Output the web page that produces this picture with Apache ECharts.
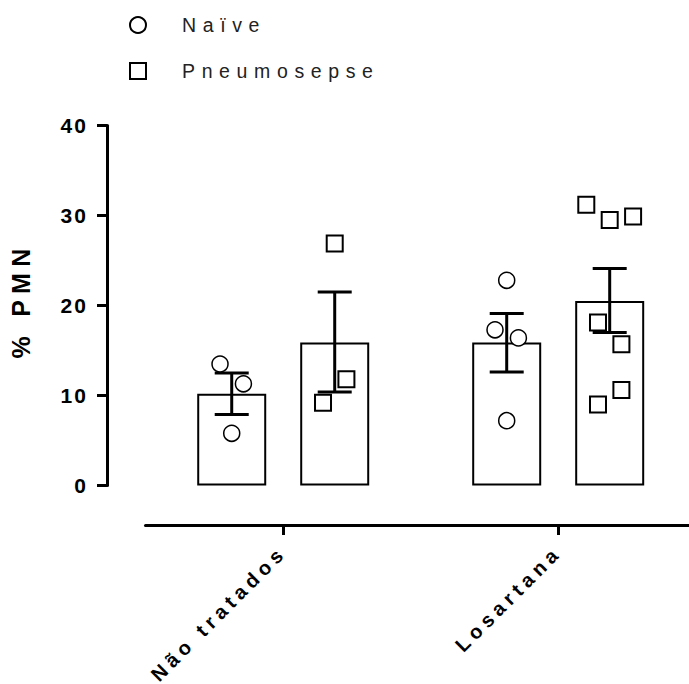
<!DOCTYPE html>
<html>
<head>
<meta charset="utf-8">
<script src="https://cdn.jsdelivr.net/npm/echarts@6/dist/echarts.min.js"></script>
<style>
  html, body { margin: 0; padding: 0; background: #fff; }
  #main { width: 689px; height: 684px; }
  /* GraphPad style wide lettering, per text size */
  #main svg text { letter-spacing: 0.28em; }
  #main svg text[style*="19.5px"] { letter-spacing: 0.34em; }
  #main svg text[style*="20px"] { letter-spacing: 0.25em; }
  #main svg text[style*="21px"] { letter-spacing: 0.1em; }
  #main svg text[style*="25px"] { letter-spacing: 0.25em; }
</style>
</head>
<body>
<div id="main"></div>
<script>
// groups on the x axis
let groups = ['Não tratados', 'Losartana'];
let seriesNames = ['Naïve', 'Pneumosepse'];

// individual points, per group
let naiveVals = [[13.5, 11.3, 5.8], [22.8, 17.3, 16.4, 7.2]];
let naiveCols = [[-1, 1, 0], [0, -1, 1, 0]];
let pneumoVals = [[26.9, 11.8, 9.2], [31.2, 29.5, 29.9, 18.1, 15.7, 10.6, 9.0]];
let pneumoCols = [[0, 1, -1], [-2, 0, 2, -1, 1, 1, -1]];

// bar heights (mean) and error bars (low / high)
let naiveMean = [10.2, 15.9];
let pneumoMean = [15.9, 20.5];
let naiveErr = [[7.9, 12.5], [12.6, 19.1]];
let pneumoErr = [[10.4, 21.5], [17.0, 24.1]];

let yTicks = [0, 10, 20, 30, 40];

// layout
let groupStep = 2.67;   // slot units between groups
let colStep = 0.1136;   // dot column spacing, slot units
let font = '"Liberation Sans", Arial, sans-serif';

function slot(g, s){
  return g * groupStep + s;
}

let bars = [];
let errs = [];
let naivePts = [];
let pneumoPts = [];
for(let g=0; g<groups.length; g++){
  bars.push([slot(g,0), naiveMean[g]]);
  bars.push([slot(g,1), pneumoMean[g]]);
  errs.push([slot(g,0), naiveErr[g][0], naiveErr[g][1]]);
  errs.push([slot(g,1), pneumoErr[g][0], pneumoErr[g][1]]);
  for(let i=0;i<naiveVals[g].length;i++){
    naivePts.push([slot(g,0) + naiveCols[g][i]*colStep, naiveVals[g][i]]);
  }
  for(let i=0;i<pneumoVals[g].length;i++){
    pneumoPts.push([slot(g,1) + pneumoCols[g][i]*colStep, pneumoVals[g][i]]);
  }
}

function renderErr(params, api){
  let x = api.value(0);
  let lo = api.coord([x, api.value(1)]);
  let hi = api.coord([x, api.value(2)]);
  let half = 17;
  let st = {stroke:'#000', lineWidth:3};
  return {
    type:'group',
    children:[
      {type:'line', shape:{x1:lo[0], y1:lo[1], x2:hi[0], y2:hi[1]}, style:st},
      {type:'line', shape:{x1:lo[0]-half, y1:lo[1], x2:lo[0]+half, y2:lo[1]}, style:st},
      {type:'line', shape:{x1:hi[0]-half, y1:hi[1], x2:hi[0]+half, y2:hi[1]}, style:st}
    ]
  };
}

let chart = echarts.init(document.getElementById('main'), null, {renderer:'svg'});

let option = {
  backgroundColor:'#fff',
  animation:false,
  textStyle:{fontFamily:font},
  legend:{
    orient:'vertical',
    left:129,
    top:15,
    padding:0,
    itemWidth:16,
    itemHeight:16,
    itemGap:26,
    data:seriesNames,
    textStyle:{fontSize:19.5, color:'#222', fontFamily:font, padding:[0,0,0,31]}
  },
  grid:[
    {left:107, top:125.5, width:582, height:360, outerBoundsMode:'none'},
    {left:145.5, top:400, width:550, height:125, outerBoundsMode:'none'}
  ],
  xAxis:[
    {
      type:'value', gridIndex:0, min:-1.211, max:4.44, show:false
    },
    {
      type:'category', gridIndex:1, data:groups,
      axisLine:{show:true, lineStyle:{color:'#000', width:3}},
      axisTick:{show:true, alignWithLabel:true, length:10, lineStyle:{color:'#000', width:3}},
      axisLabel:{rotate:45, margin:24, fontSize:20, fontWeight:'bold', color:'#000', fontFamily:font}
    }
  ],
  yAxis:[
    {
      type:'value', gridIndex:0, min:0, max:40, interval:10,
      name:'% PMN', nameLocation:'middle', nameRotate:90, nameGap:74,
      nameTextStyle:{fontSize:25, fontWeight:'bold', color:'#000', fontFamily:font, padding:[0,0,0,10]},
      axisLine:{show:true, onZero:false, lineStyle:{color:'#000', width:3}},
      axisTick:{show:true, length:10, lineStyle:{color:'#000', width:3}},
      axisLabel:{margin:19, fontSize:21, fontWeight:'bold', color:'#000', fontFamily:font,
        customValues:yTicks},
      splitLine:{show:false}
    },
    {type:'value', gridIndex:1, show:false}
  ],
  series:[
    {
      type:'bar', name:'mean', xAxisIndex:0, yAxisIndex:0,
      barWidth:69, z:1,
      itemStyle:{color:'#fff', borderColor:'#000', borderWidth:2},
      data:bars
    },
    {
      type:'custom', name:'sem', xAxisIndex:0, yAxisIndex:0, z:3,
      renderItem:renderErr,
      encode:{x:0, y:[1,2]},
      data:errs
    },
    {
      type:'scatter', name:seriesNames[0], xAxisIndex:0, yAxisIndex:0, z:4,
      symbol:'circle', symbolSize:16,
      itemStyle:{color:'#fff', borderColor:'#000', borderWidth:1.5, opacity:1},
      data:naivePts
    },
    {
      type:'scatter', name:seriesNames[1], xAxisIndex:0, yAxisIndex:0, z:4,
      symbol:'rect', symbolSize:16,
      itemStyle:{color:'#fff', borderColor:'#000', borderWidth:2, opacity:1},
      data:pneumoPts
    }
  ]
};

chart.setOption(option);
</script>
</body>
</html>
